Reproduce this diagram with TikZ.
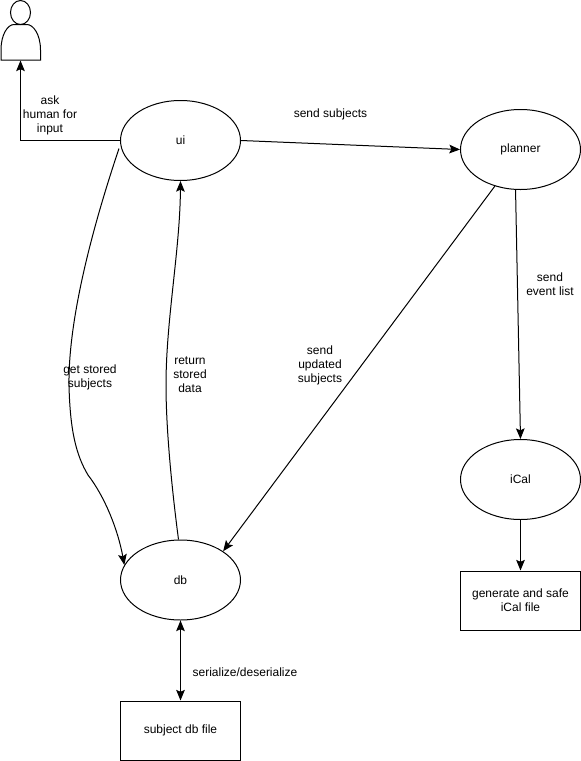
\documentclass[tikz,border=0pt]{standalone}
\usepackage{fontspec}
\setmainfont{Liberation Sans}
\usetikzlibrary{arrows.meta,shapes.geometric}
\tikzset{
  x=0.75pt,y=-0.75pt,
  proc/.style={draw,ellipse,minimum width=90pt,minimum height=60pt,inner sep=0pt,line width=0.75pt,font=\fontsize{9}{10.5}\selectfont},
  filebox/.style={draw,rectangle,minimum width=90pt,minimum height=44.25pt,inner sep=0pt,align=center,line width=0.75pt,font=\fontsize{9}{10.5}\selectfont},
  lbl/.style={align=center,inner sep=0pt,font=\fontsize{9}{10.5}\selectfont},
  conn/.style={line width=0.75pt,-{Stealth[length=8pt,width=6.5pt,inset=1.5pt]}},
  conn2/.style={line width=0.75pt,{Stealth[length=8pt,width=6.5pt,inset=1.5pt]}-{Stealth[length=8pt,width=6.5pt,inset=1.5pt]}}
}
\begin{document}
\begin{tikzpicture}
\useasboundingbox (0,0) rectangle (581,761);
\node[proc] (ui) at (180.5,140.5) {ui};
\node[proc] (planner) at (520.5,149.5) {planner};
\node[proc] (ical) at (520.5,479.5) {iCal};
\node[proc] (db) at (180.5,580) {db};
\node[filebox] (gen) at (520.5,600.5) {generate and safe\\iCal file};
\node[filebox] (file) at (180.5,730.5) {subject db file};
% actor
\coordinate (actor) at (20.5,60.5);
\draw[line width=0.75pt] (20.5,12.5) ellipse (10 and 12);
\draw[line width=0.75pt] (1,60) -- (1,50) .. controls (1,34) and (8,24.5) .. (14,24.5) -- (27,24.5) .. controls (33,24.5) and (40.5,34) .. (40.5,50) -- (40.5,60) -- cycle;
% connectors
\draw[conn] (ui.west) -- (20.5,140.5) -- (actor);
\draw[conn] (ui.east) -- (planner.west);
\draw[conn] (ui.west) ++(-1,8) .. controls (100,205) and (68,310) .. (69,385) .. controls (70,430) and (76,455) .. (88,475) .. controls (105,497) and (118,530) .. (db.165);
\draw[conn] (db.north) ++(-2,0) .. controls (172,490) and (166,430) .. (166,385) .. controls (166,320) and (180,250) .. (ui.south);
\draw[conn] (planner.-125) -- (db.34);
\draw[conn] (planner.-97) -- (ical.north);
\draw[conn] (ical.south) -- (gen.north);
\draw[conn2] (db.south) -- (file.north);
% labels
\node[lbl] at (50,115) {ask\\human for\\input};
\node[lbl] at (330.5,114) {send subjects};
\node[lbl] at (90,377) {get stored\\subjects};
\node[lbl] at (190,375) {return\\stored\\data};
\node[lbl] at (320,365) {send\\updated\\subjects};
\node[lbl] at (550,284) {send\\event list};
\node[lbl] at (245,672) {serialize/deserialize};
\end{tikzpicture}
\end{document}
